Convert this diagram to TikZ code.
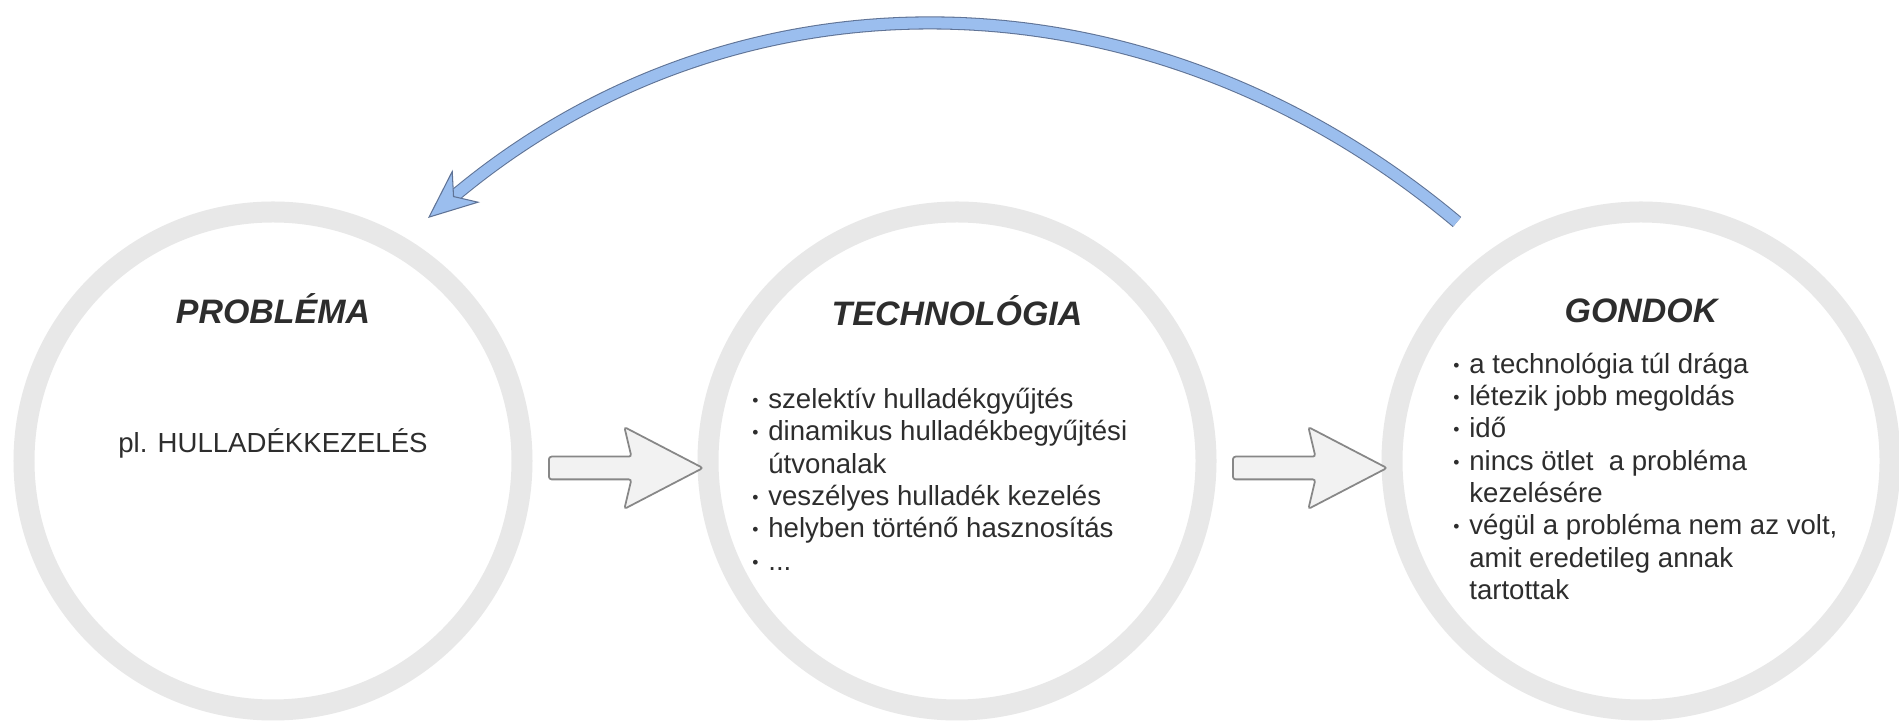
\documentclass[tikz,border=0pt]{standalone}
\usepackage{fontspec}
\setmainfont{Liberation Sans}
\usetikzlibrary{
	arrows.meta,shapes.arrows,positioning,calc
}
\definecolor{ringgray}{RGB}{232,232,232}
\definecolor{txtgray}{RGB}{45,45,45}
\definecolor{blockfill}{RGB}{242,242,242}
\definecolor{blockedge}{RGB}{135,135,135}
\definecolor{arcfill}{RGB}{155,190,238}
\definecolor{arcedge}{RGB}{95,115,150}
\newcommand{\pont}{\makebox[0.32cm][l]{\raisebox{1.2pt}{\fontsize{10pt}{10pt}\selectfont\textbullet}}}
\newcommand{\behuz}{\hspace*{0.32cm}}
\tikzset{
	ring/.style={
		circle, minimum size=9.96cm, inner sep=0pt,
		line width=0.42cm, draw=ringgray, fill=white
	},
	%
	title/.style={
		inner sep=0pt, text=txtgray,
		font=\fontsize{19.3pt}{22pt}\selectfont\bfseries\itshape
	},
	%
	body/.style={
		inner sep=0pt, text=txtgray, align=left,
		font=\fontsize{15.7pt}{18.4pt}\selectfont
	},
	%
	blockarrow/.style={
		single arrow, inner sep=0.21cm, minimum height=3.08cm,
		single arrow head extend=0.59cm, single arrow tip angle=55,
		single arrow head indent=0.14cm, rounded corners=1.5pt,
		line width=1pt, draw=blockedge, fill=blockfill
	},
	%
	backarc/.style={
		draw=arcedge, line width=0.6pt, double=arcfill, double distance=0.22cm,
		-{Stealth[length=1cm, width=0.85cm, inset=0.32cm, fill=arcfill]}
	}
}

\begin{document}
\begin{tikzpicture}
\useasboundingbox[fill=white] (-5.46,-5.28) rectangle (32.52,9.22);
\node(prob)[ring]{};
\node(tech)[ring, right=3.3cm of prob]{};
\node(gond)[ring, right=3.3cm of tech]{};

\node(probtitle)[title] at ([yshift=3.05cm]prob.center){PROBLÉMA};
\node(techtitle)[title] at ([yshift=3.0cm]tech.center){TECHNOLÓGIA};
\node(gondtitle)[title] at ([yshift=3.0cm]gond.center){GONDOK};

\node(probtext)[body] at ([yshift=0.36cm]prob.center){pl. HULLADÉKKEZELÉS};
\node(techlist)[body, anchor=north west] at ([shift={(-4.1,1.46)}]tech.center){%
	\pont szelektív hulladékgyűjtés\\
	\pont dinamikus hulladékbegyűjtési\\
	\behuz útvonalak\\
	\pont veszélyes hulladék kezelés\\
	\pont helyben történő hasznosítás\\
	\pont ...};
\node(gondlist)[body, anchor=north west] at ([shift={(-3.76,2.17)}]gond.center){%
	\pont a technológia túl drága\\
	\pont létezik jobb megoldás\\
	\pont idő\\
	\pont nincs ötlet\ \ a probléma\\
	\behuz kezelésére\\
	\pont végül a probléma nem az volt,\\
	\behuz amit eredetileg annak\\
	\behuz tartottak};

\node(arr1)[blockarrow] at ([yshift=-0.14cm]$(prob.east)!0.5!(tech.west)$){};
\node(arr2)[blockarrow] at ([yshift=-0.14cm]$(tech.east)!0.5!(gond.west)$){};

% visszacsatolas
\coordinate(arcstart) at ([shift={(-3.68,4.78)}]gond.center);
\coordinate(arcend) at ([shift={(3.1,4.86)}]prob.center);
\draw[backarc] (arcstart) to[out=140, in=40, looseness=1.0] (arcend);
\end{tikzpicture}
\end{document}
